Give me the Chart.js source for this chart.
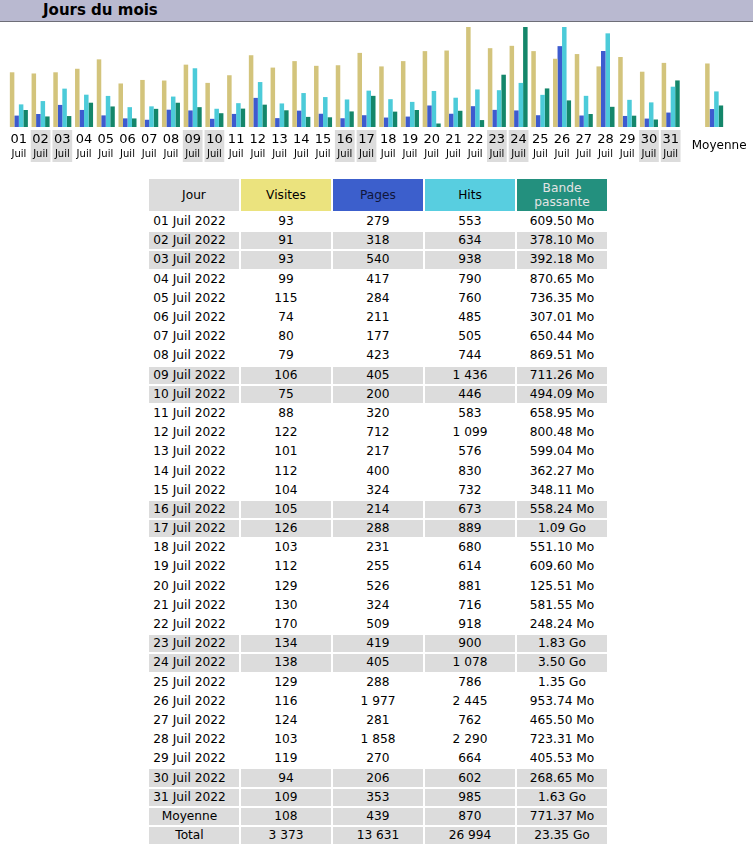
<!DOCTYPE html>
<html lang="fr">
<head>
<meta charset="utf-8">
<title>Jours du mois</title>
<script src="https://cdn.jsdelivr.net/npm/chart.js@4.4.1/dist/chart.umd.min.js"></script>
<style>
    body { margin: 0; background: #fff; font-family: "DejaVu Sans", Verdana, sans-serif; color: #000; width: 753px; height: 860px; position: relative; overflow: hidden; }
    .titre { position: absolute; left: 0; top: 0; width: 753px; height: 21px; background: #b9b9d0; border-bottom: 1px solid #6e6e78; }
    .titre span { position: absolute; left: 43px; top: 0px; font-weight: bold; font-size: 15px; line-height: 20px; }
    #chart-box { position: absolute; left: 0; top: 22px; width: 753px; height: 145px; }
    table.jours { position: absolute; left: 147px; top: 177px; border-spacing: 2px; border-collapse: separate; font-size: 12.2px; }
    table.jours th { font-weight: normal; height: 32px; padding: 0; line-height: 14px; width: 90px; }
    table.jours td { height: 17.2px; padding: 0; text-align: center; line-height: 17px; width: 90px; white-space: nowrap; }
    table.jours td.jour { padding-right: 9px; width: 81px; }
    table.jours tr.gris td { background: #dcdcdc; }
</style>
</head>
<body>
<div class="titre"><span>Jours du mois</span></div>
<div id="chart-box"><canvas id="jours-chart" width="753" height="145"></canvas></div>
<table class="jours" id="jours-table"></table>

<script>
const dayLabels = ['01','02','03','04','05','06','07','08','09','10','11','12','13','14','15','16',
                   '17','18','19','20','21','22','23','24','25','26','27','28','29','30','31'];
const weekendDays = ['02','03','09','10','16','17','23','24','30','31'];
const visits = [93, 91, 93, 99, 115, 74, 80, 79, 106, 75, 88, 122, 101, 112, 104, 105,
                126, 103, 112, 129, 130, 170, 134, 138, 129, 116, 124, 103, 119, 94, 109];
const pages = [279, 318, 540, 417, 284, 211, 177, 423, 405, 200, 320, 712, 217, 400, 324, 214,
               288, 231, 255, 526, 324, 509, 419, 405, 288, 1977, 281, 1858, 270, 206, 353];
const hits = [553, 634, 938, 790, 760, 485, 505, 744, 1436, 446, 583, 1099, 576, 830, 732, 673,
              889, 680, 614, 881, 716, 918, 900, 1078, 786, 2445, 762, 2290, 664, 602, 985];
// bande passante en Mo (1 Go = 1024 Mo)
const bandwidth = [609.50, 378.10, 392.18, 870.65, 736.35, 307.01, 650.44, 869.51, 711.26, 494.09, 658.95,
                   800.48, 599.04, 362.27, 348.11, 558.24, 1116.16, 551.10, 609.60, 125.51, 581.55, 248.24,
                   1873.92, 3584.00, 1382.40, 953.74, 465.50, 723.31, 405.53, 268.65, 1669.12];
const average = { visits: 108, pages: 439, hits: 870, bandwidth: 771.37 };
const total = { visits: 3373, pages: 13631, hits: 26994, bandwidth: 23910.40 };

const COLORS = { visits: '#d3c47c', pages: '#3d5bcf', hits: '#4ccbd9', bandwidth: '#14866a' };
const FONT = '"DejaVu Sans", Verdana, sans-serif';

function fmtNum(n) {
    return String(n).replace(/\B(?=(\d{3})+(?!\d))/g, ' ');
}
function fmtBytes(mo) {
    return mo >= 1024 ? (mo / 1024).toFixed(2) + ' Go' : mo.toFixed(2) + ' Mo';
}

// --- tableau ---
function buildTable() {
    const t = document.getElementById('jours-table');
    let html = '<tr><th style="background:#dcdcdc">Jour</th>' +
        '<th style="background:#ebe37e">Visites</th>' +
        '<th style="background:#3c5fcc;color:#10163a">Pages</th>' +
        '<th style="background:#58cee0">Hits</th>' +
        '<th style="background:#23907e;color:#e4e4e4">Bande<br>passante</th></tr>';
    dayLabels.forEach((d, i) => {
        const cls = weekendDays.includes(d) ? ' class="gris"' : '';
        html += `<tr${cls}><td class="jour">${d} Juil 2022</td><td>${fmtNum(visits[i])}</td>` +
            `<td>${fmtNum(pages[i])}</td><td>${fmtNum(hits[i])}</td><td>${fmtBytes(bandwidth[i])}</td></tr>`;
    });
    html += `<tr class="gris"><td class="jour">Moyenne</td><td>${fmtNum(average.visits)}</td><td>${fmtNum(average.pages)}</td>` +
        `<td>${fmtNum(average.hits)}</td><td>${fmtBytes(average.bandwidth)}</td></tr>`;
    html += `<tr class="gris"><td class="jour">Total</td><td>${fmtNum(total.visits)}</td><td>${fmtNum(total.pages)}</td>` +
        `<td>${fmtNum(total.hits)}</td><td>${fmtBytes(total.bandwidth)}</td></tr>`;
    t.innerHTML = html;
}

// --- libellés sous les barres (jour + "Juil", fond gris le week-end) ---
const dayLabelPlugin = {
    id: 'dayLabels',
    afterDraw(chart) {
        const { ctx, chartArea } = chart;
        const xs = chart.scales.x;
        const base = chartArea.bottom;
        const colW = xs.getPixelForValue(1) - xs.getPixelForValue(0);
        ctx.save();
        ctx.textAlign = 'center';
        ctx.textBaseline = 'middle';
        chart.data.labels.forEach((lab, i) => {
            if (!lab) return;
            const x = xs.getPixelForValue(i);
            if (lab === 'Moyenne') {
                ctx.fillStyle = '#000';
                ctx.font = '12px ' + FONT;
                ctx.fillText(lab, x + 5, base + 19);
                return;
            }
            if (weekendDays.includes(lab)) {
                ctx.fillStyle = '#dcdcdc';
                ctx.fillRect(x - colW / 2 + 1, base + 3, colW - 2, 32);
            }
            ctx.fillStyle = '#000';
            ctx.font = '13px ' + FONT;
            ctx.fillText(lab, x, base + 13);
            ctx.font = '10px ' + FONT;
            ctx.fillText('Juil', x, base + 27);
        });
        ctx.restore();
    }
};

function initChart() {
    const labels = [...dayLabels, '', 'Moyenne'];
    const withAvg = (arr, avg) => [...arr, null, avg];
    const maxV = Math.max(...visits);
    const maxH = Math.max(...hits, ...pages);
    const maxK = Math.max(...bandwidth);
    const ds = (label, data, color, axis) => ({
        label, data, yAxisID: axis,
        backgroundColor: color, borderWidth: 0,
        barPercentage: 1.0, categoryPercentage: 0.83
    });
    new Chart(document.getElementById('jours-chart'), {
        type: 'bar',
        data: {
            labels,
            datasets: [
                ds('Visites', withAvg(visits, average.visits), COLORS.visits, 'yv'),
                ds('Pages', withAvg(pages, average.pages), COLORS.pages, 'yh'),
                ds('Hits', withAvg(hits, average.hits), COLORS.hits, 'yh'),
                ds('Bande passante', withAvg(bandwidth, average.bandwidth), COLORS.bandwidth, 'yk')
            ]
        },
        options: {
            responsive: false,
            animation: false,
            layout: { padding: { left: 8, right: 28, top: 5, bottom: 40 } },
            plugins: { legend: { display: false }, tooltip: { enabled: false } },
            scales: {
                x: { display: false },
                yv: { display: false, min: 0, max: maxV },
                yh: { display: false, min: 0, max: maxH },
                yk: { display: false, min: 0, max: maxK }
            }
        },
        plugins: [dayLabelPlugin]
    });
}

buildTable();
initChart();
</script>
</body>
</html>
